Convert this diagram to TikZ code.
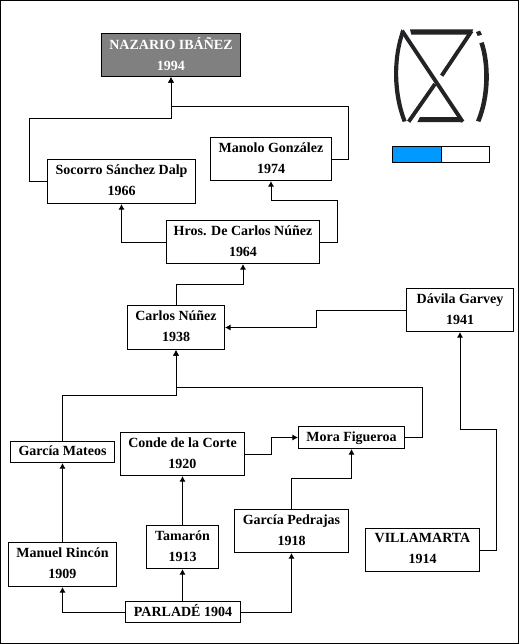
\documentclass[tikz,border=0pt]{standalone}
\usepackage{fontspec}
\setmainfont{Liberation Serif}
\usetikzlibrary{arrows.meta}
\definecolor{barblue}{HTML}{0099FF}
\definecolor{logoink}{HTML}{232326}
\definecolor{headgray}{HTML}{808080}
\tikzset{
  x=0.75pt,y=-0.75pt,
  famblock/.style={draw=black,line width=0.75pt,fill=white,inner sep=0pt,align=center,text depth=2pt,
    font=\fontsize{10.5}{15.75}\selectfont\bfseries,text=black},
  headblock/.style={famblock,fill=headgray,text=white},
  link/.style={draw=black,line width=0.75pt,-{Latex[length=4.2pt,width=4.6pt]}},
  logostroke/.style={draw=logoink,line width=2.9pt},
}
\newcommand{\famnode}[7]{% name x0 y0 x1 y1 style text
  \node[#6,minimum width={(#4-#2)*0.75pt},minimum height={(#5-#3)*0.75pt}] (#1) at ({(#2+#4)/2},{(#3+#5)/2}) {#7};}
\begin{document}
\begin{tikzpicture}
\useasboundingbox (0,0) rectangle (519,644);
\fill[white] (0,0) rectangle (519,644);
\draw[black,line width=0.75pt] (0.5,0.5) rectangle (518.5,643.5);

\famnode{naz}{101.5}{33.5}{240.5}{76.5}{headblock}{NAZARIO IBÁÑEZ\\1994}
\famnode{soc}{47.5}{159.5}{195.5}{203.5}{famblock}{Socorro Sánchez Dalp\\1966}
\famnode{man}{210.5}{137.5}{331.5}{180.5}{famblock}{Manolo González\\1974}
\famnode{hros}{166.5}{220.5}{319.5}{263.5}{famblock}{Hros. De Carlos Núñez\\1964}
\famnode{car}{127.5}{305.5}{224.5}{349.5}{famblock}{Carlos Núñez\\1938}
\famnode{dav}{406.5}{288.5}{513.5}{331.5}{famblock}{Dávila Garvey\\1941}
\famnode{mat}{10.5}{441.5}{114.5}{462.5}{famblock}{García Mateos}
\famnode{con}{120.5}{432.5}{244.5}{475.5}{famblock}{Conde de la Corte\\1920}
\famnode{mor}{298.5}{426.5}{404.5}{448.5}{famblock}{Mora Figueroa}
\famnode{tam}{146.5}{525.5}{218.5}{568.5}{famblock}{Tamarón\\1913}
\famnode{ped}{234.5}{509.5}{348.5}{552.5}{famblock}{García Pedrajas\\1918}
\famnode{rin}{8.5}{542.5}{116.5}{586.5}{famblock}{Manuel Rincón\\1909}
\famnode{vil}{365.5}{528.5}{479.5}{571.5}{famblock}{VILLAMARTA\\1914}
\famnode{par}{125.5}{601.5}{240.5}{622.5}{famblock}{PARLADÉ 1904}

\draw[link] (soc.west) -- (29.5,181.5) -- (29.5,118.5) -- (naz.south |- 0,118.5) -- (naz.south);
\draw[link] (man.east) -- (348.5,159) -- (348.5,106.5) -- (naz.south |- 0,106.5) -- (naz.south);
\draw[link] (hros.west) -- (soc.south |- hros.west) -- (soc.south);
\draw[link] (hros.east) -- (337.5,242) -- (337.5,200.5) -- (man.south |- 0,200.5) -- (man.south);
\draw[link] (car.north) -- (car.north |- 0,284.5) -- (hros.south |- 0,284.5) -- (hros.south);
\draw[link] (dav.west) -- (316.5,310) -- (316.5,327.5) -- (car.east);
\draw[link] (mat.north) -- (mat.north |- 0,395.5) -- (car.south |- 0,395.5) -- (car.south);
\draw[link] (mor.east) -- (422.5,437.5) -- (422.5,387.5) -- (car.south |- 0,387.5) -- (car.south);
\draw[link] (con.east) -- (271.5,454) -- (271.5,437.5) -- (mor.west);
\draw[link] (ped.north) -- (ped.north |- 0,478.5) -- (mor.south |- 0,478.5) -- (mor.south);
\draw[link] (tam.north) -- (con.south);
\draw[link] (rin.north) -- (mat.south);
\draw[link] (vil.east) -- (496.5,550) -- (496.5,429.5) -- (dav.south |- 0,429.5) -- (dav.south);
\draw[link] (par.north -| tam.south) -- (tam.south);
\draw[link] (par.west) -- (rin.south |- par.west) -- (rin.south);
\draw[link] (par.east) -- (ped.south |- par.east) -- (ped.south);

% progress bar
\fill[white] (392.5,146.5) rectangle (489.5,162.5);
\fill[barblue] (392.5,146.5) rectangle (441.5,162.5);
\draw[black,line width=0.75pt] (392.5,146.5) rectangle (489.5,162.5);
\draw[black,line width=0.75pt] (441.5,146.5) -- (441.5,162.5);

% logo
\begin{scope}[shift={(390,20)},x=0.25pt,y=-0.25pt]
\draw[logostroke,line cap=butt] (36,32) -- (218,305);
\draw[logostroke] (245,33) -- (155,167);
\draw[logostroke] (135,192) -- (56,305);
\fill[logoink] (60,28) -- (250,28) -- (241,44) -- (64,44) -- cycle;
\fill[logoink] (82,306) -- (90,291) -- (208,291) -- (220,306) -- cycle;
\fill[logoink] (35,27) -- (40,50) .. controls (18,120) and (18,220) .. (50,303) -- (38,306) .. controls (4,220) and (4,110) .. cycle;
\fill[logoink] (268,70) -- (281,66) .. controls (303,130) and (303,230) .. (271,306) -- (258,302) .. controls (289,230) and (289,130) .. cycle;
\fill[logoink] (258,36) -- (270,32) -- (276,44) -- (263,48) -- cycle;
\end{scope}
\end{tikzpicture}
\end{document}
